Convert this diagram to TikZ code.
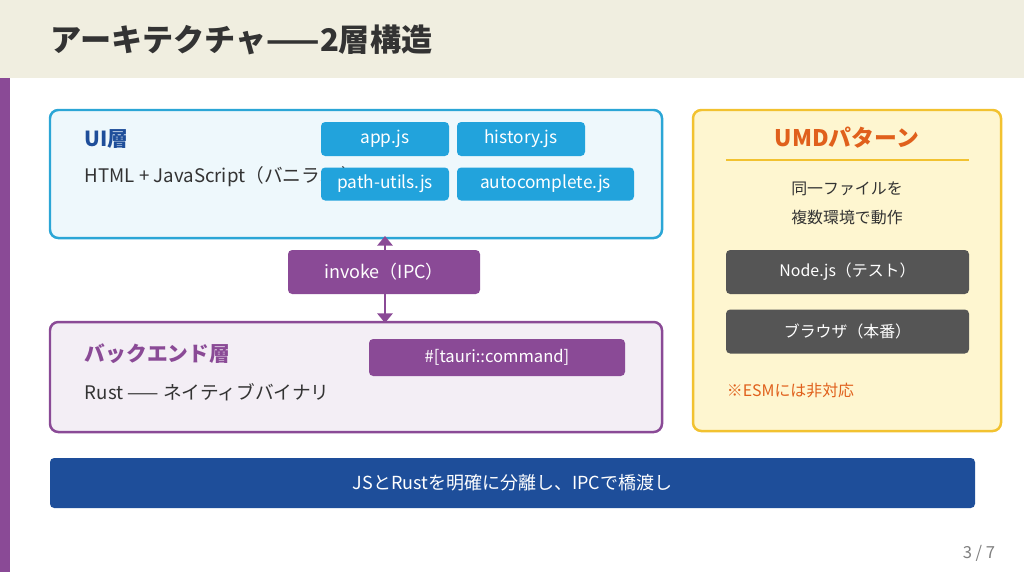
\documentclass[tikz,border=0pt]{standalone}
\usepackage{fontspec}
\setmainfont{Noto Sans CJK JP}
\usetikzlibrary{positioning, arrows.meta}
\definecolor{hdrbg}{HTML}{F0EEE0}
\definecolor{uiblue}{HTML}{2BA6D6}
\definecolor{uifill}{HTML}{EEF8FC}
\definecolor{chipblue}{HTML}{22A3DC}
\definecolor{navy}{HTML}{1E4E9A}
\definecolor{rustpurple}{HTML}{8A4A96}
\definecolor{befill}{HTML}{F3EEF5}
\definecolor{umdfill}{HTML}{FEF6D0}
\definecolor{umdgold}{HTML}{F2C230}
\definecolor{umdorange}{HTML}{E0601C}
\definecolor{darkgray}{HTML}{555555}
\definecolor{txt}{HTML}{333333}
\newdimen\px \px=0.0254cm
\tikzset{
  layer/.style = {rounded corners=6pt, line width=1.8pt},
  box/.style = {rounded corners=3pt, inner sep=0pt},
  chip/.style = {box, fill=chipblue, text=white, font=\fontsize{12.5}{14}\selectfont},
  pchip/.style = {box, fill=rustpurple, text=white, font=\fontsize{12}{14}\selectfont},
  gchip/.style = {box, fill=darkgray, text=white, font=\fontsize{11.5}{14}\selectfont},
  body/.style = {anchor=west, text=txt, font=\fontsize{13.5}{15}\selectfont},
  ipcarrow/.style = {-{Triangle[length=7pt, width=11pt]}, line width=2pt, rustpurple},
}
\begin{document}
\begin{tikzpicture}[x=0.0254cm, y=-0.0254cm]

    \useasboundingbox (0, 0) rectangle (1024, 572);

    % Header
    \fill [hdrbg] (0, 0) rectangle (1024, 78);
    \node (title) [anchor = west, text = txt, font = \fontsize{22.5}{26}\selectfont\bfseries] at (46, 40) {アーキテクチャ——2層構造};
    \fill [rustpurple] (0, 78) rectangle (10, 572);

    % UI layer
    \draw [layer, draw = uiblue, fill = uifill] (50, 110) rectangle (662, 238);
    \node (uititle) [anchor = west, text = navy, font = \fontsize{15}{18}\selectfont\bfseries] at (80, 139) {UI層};
    \node (uitext) [body] at (80, 177) {HTML + JavaScript（バニラJS）};

    %% Modules
    \node (app) [chip, minimum width = 128\px, minimum height = 34\px] at (385, 139) {app.js};
    \node (hist) [chip, minimum width = 128\px, minimum height = 34\px] at (521, 139) {history.js};
    \node (path) [chip, minimum width = 128\px, minimum height = 33\px] at (385, 184) {path-utils.js};
    \node (auto) [chip, minimum width = 177\px, minimum height = 33\px] at (545.5, 184) {autocomplete.js};

    % Backend layer
    \draw [layer, draw = rustpurple, fill = befill] (50, 322) rectangle (662, 432);
    \node (betitle) [anchor = west, text = rustpurple, font = \fontsize{15}{18}\selectfont\bfseries] at (80, 354) {バックエンド層};
    \node (betext) [body] at (80, 392) {Rust —— ネイティブバイナリ};
    \node (cmd) [pchip, minimum width = 256\px, minimum height = 37\px] at (497, 357.5) {\#[tauri::command]};

    %% IPC
    \coordinate (uitop) at (385, 236);
    \coordinate (bebot) at (385, 323);
    \node (ipc) [pchip, font = \fontsize{13}{15}\selectfont, minimum width = 192\px, minimum height = 44\px] at (384, 272) {invoke（IPC）};
    \draw [ipcarrow] (ipc.north -| uitop) -- (uitop);
    \draw [ipcarrow] (ipc.south -| bebot) -- (bebot);

    % UMD pattern
    \draw [layer, draw = umdgold, fill = umdfill] (693, 110) rectangle (1001, 431);
    \node (umdtitle) [text = umdorange, font = \fontsize{16.5}{19}\selectfont\bfseries] at (847, 138) {UMDパターン};
    \draw [umdgold, line width=1.2pt] (726, 160) -- (969, 160);
    \node (umdtext) [text = txt, align = center, font = \fontsize{11.5}{21}\selectfont] at (847, 203) {同一ファイルを\\複数環境で動作};
    \node (node) [gchip, minimum width = 243\px, minimum height = 44\px] at (847.5, 272) {Node.js（テスト）};
    \node (brow) [gchip, minimum width = 243\px, minimum height = 44\px] at (847.5, 331.5) {ブラウザ（本番）};
    \node (esm) [anchor = west, text = umdorange, font = \fontsize{11.5}{14}\selectfont] at (722, 391) {※ESMには非対応};

    % Summary
    \node (sum) [box, fill = navy, text = white, minimum width = 925\px, minimum height = 50\px, font = \fontsize{13}{15}\selectfont] at (512.5, 483) {JSとRustを明確に分離し、IPCで橋渡し};

    \node (page) [anchor = east, text = gray, font = \fontsize{12}{14}\selectfont] at (1000, 553) {3 / 7};

\end{tikzpicture}
\end{document}
